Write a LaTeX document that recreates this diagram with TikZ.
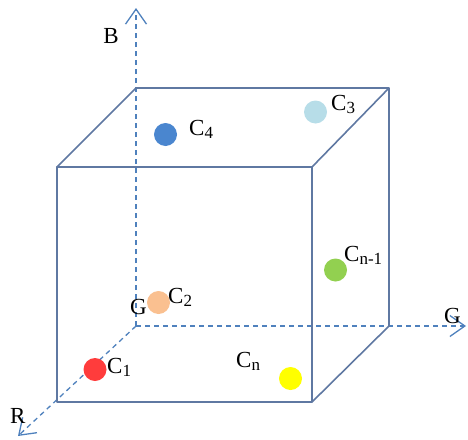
\documentclass[tikz,border=0pt]{standalone}
\usepackage{fontspec}
\setmainfont{Liberation Serif}
\usetikzlibrary{arrows.meta}
\definecolor{cubec}{RGB}{95,120,162}
\definecolor{axisc}{RGB}{79,129,189}
\definecolor{dcfour}{RGB}{74,134,207}
\definecolor{dcthree}{RGB}{183,221,232}
\definecolor{dctwo}{RGB}{250,192,144}
\definecolor{dcone}{RGB}{255,60,60}
\definecolor{dcn}{RGB}{255,255,0}
\definecolor{dcnm}{RGB}{146,208,80}
\newcommand{\mysub}[1]{\raisebox{-3pt}{\fontsize{17}{17}\selectfont #1}}
\tikzset{
  cube/.style={draw=cubec, line width=1.6pt, line join=round},
  axisline/.style={draw=axisc, line width=1.3pt, dash pattern=on 5pt off 4pt,
     -{Straight Barb[length=15pt,width=21pt,line width=1.3pt]}},
  dot/.style={circle, inner sep=0pt, minimum size=23pt, draw=none},
  lbl/.style={inner sep=0pt, font=\fontsize{23}{23}\selectfont, text=black},
}
\begin{document}
\begin{tikzpicture}[x=1pt,y=-1pt]
\useasboundingbox (0,0) rectangle (468,439);
% corners
\coordinate (O) at (136,326);
\coordinate (Bt) at (136,8);
\coordinate (Gt) at (466,326);
\coordinate (Rt) at (18,436);
\coordinate (fa) at (57,167);
\coordinate (fb) at (312,167);
\coordinate (fc) at (312,402);
\coordinate (fd) at (57,402);
\coordinate (ba) at (136,88);
\coordinate (bb) at (389,88);
\coordinate (bc) at (389,326);
% axes
\draw[axisline] (O) -- (Bt);
\draw[axisline] (O) -- (Gt);
\draw[axisline] (O) -- (Rt);
% cube
\draw[cube] (fa) -- (fb) -- (fc) -- (fd) -- cycle;
\draw[cube] (fa) -- (ba) -- (bb) -- (bc) -- (fc);
\draw[cube] (fb) -- (bb);
% axis labels
\node[lbl] (lB) at (111,36) {B};
\node[lbl, anchor=base west] (lG) at (444,323) {G};
\node[lbl, anchor=base west] (lR) at (10,423) {R};
\node[lbl, anchor=base west] (lO) at (130,314) {G};
% dots
\node[dot, fill=dcfour] (c4) at (165.5,134.5) {};
\node[dot, fill=dcthree] (c3) at (315.5,112) {};
\node[dot, fill=dctwo] (c2) at (158.5,302.5) {};
\node[dot, fill=dcone] (c1) at (95,369.5) {};
\node[dot, fill=dcn] (cn) at (290.5,378.5) {};
\node[dot, fill=dcnm] (cnm) at (335.5,270) {};
% dot labels
\node[lbl, anchor=base west] (t4) at (189,135) {C\mysub{4}};
\node[lbl, anchor=base west] (t3) at (331,110) {C\mysub{3}};
\node[lbl, anchor=base west] (t2) at (168,303) {C\mysub{2}};
\node[lbl, anchor=base west] (t1) at (107,373) {C\mysub{1}};
\node[lbl, anchor=base west] (tn) at (236,367) {C\mysub{n}};
\node[lbl, anchor=base west] (tnm) at (344,261) {C\mysub{n-1}};
\end{tikzpicture}
\end{document}
